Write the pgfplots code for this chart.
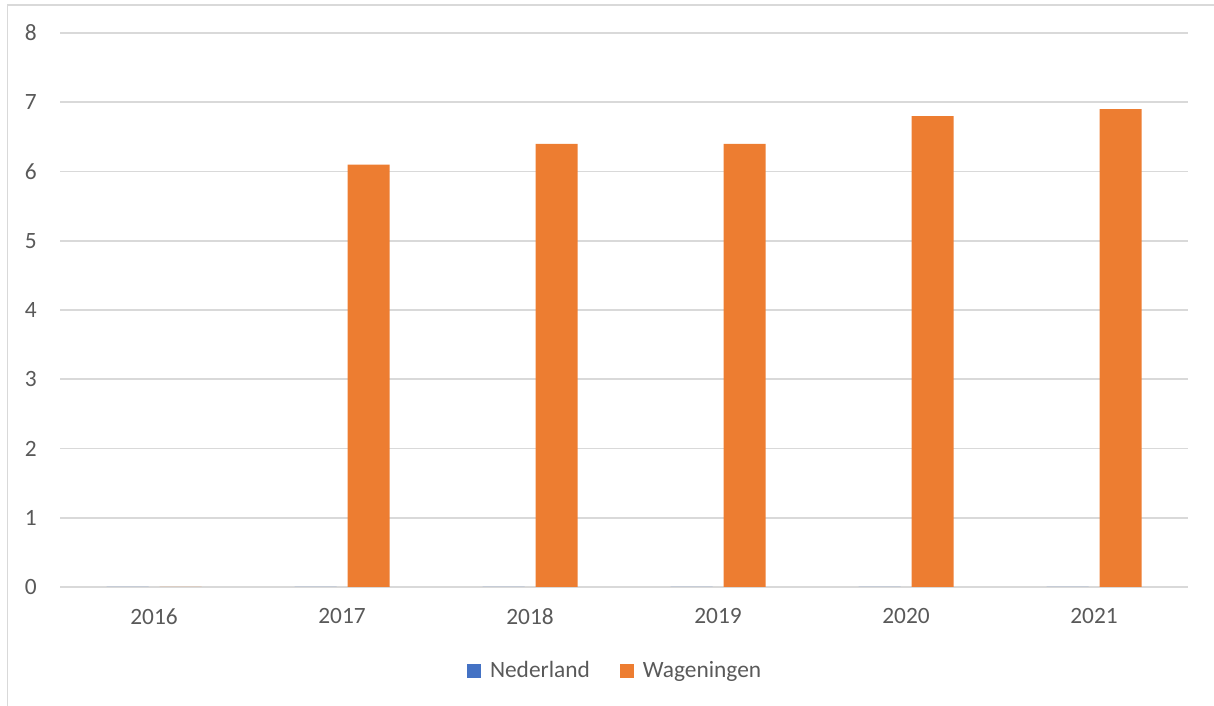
\documentclass[border=0pt]{standalone}
\usepackage{fontspec}
\setmainfont{Carlito}
\usepackage{pgfplots}
\pgfplotsset{compat=1.18}
\definecolor{nlblue}{HTML}{4472C4}
\definecolor{wageorange}{HTML}{ED7D31}
\definecolor{gridgray}{HTML}{D9D9D9}
\definecolor{txtgray}{HTML}{595959}

\begin{document}
\begin{tikzpicture}
% picture 1214 x 706 px, 1 px = 0.02 cm
\useasboundingbox (0,0) rectangle (24.28cm,14.12cm);
\draw[gridgray, line width=1.1pt] (0.15cm,0cm) -- (0.15cm,14.02cm) -- (24.28cm,14.02cm);

\begin{axis}[
  at={(1.2cm,2.38cm)}, anchor=south west,
  scale only axis,
  width=22.56cm, height=11.08cm,
  ybar=0.22cm, bar width=0.84cm,
  xmin=-0.5, xmax=5.5,
  ymin=0, ymax=8,
  xtick={0,...,5},
  xticklabels={2016,2017,2018,2019,2020,2021},
  ytick={0,...,8},
  axis x line*=bottom,
  axis y line*=left,
  x axis line style={gridgray, line width=1.1pt},
  y axis line style={draw=none},
  ymajorgrids=true,
  grid style={gridgray, line width=1.1pt},
  major tick length=0pt,
  tick label style={font=\fontsize{13.3}{16}\selectfont, text=txtgray},
  /pgf/number format/assume math mode=true,
  yticklabel style={anchor=east, inner sep=0pt, xshift=-0.46cm},
  xticklabel style={anchor=north, inner sep=0pt, yshift=-0.42cm},
  legend columns=2,
  legend style={at={(0.493,-0.1516)}, anchor=center, draw=none, fill=none,
    font=\fontsize{13.3}{16}\selectfont, text=txtgray,
    /tikz/every even column/.append style={column sep=0.54cm},
    /tikz/every odd column/.append style={column sep=0.1cm},
    inner sep=0pt},
  legend image code/.code={\fill[#1] (0cm,-0.14cm) rectangle (0.28cm,0.14cm);},
]
\addplot[fill=nlblue, draw=none] coordinates {
  (0,0) (1,0) (2,0) (3,0) (4,0) (5,0)
};
\addlegendentry{Nederland}
\addplot[fill=wageorange, draw=none] coordinates {
  (0,0) (1,6.1) (2,6.4) (3,6.4) (4,6.8) (5,6.9)
};
\addlegendentry{Wageningen}
\end{axis}
\end{tikzpicture}
\end{document}
